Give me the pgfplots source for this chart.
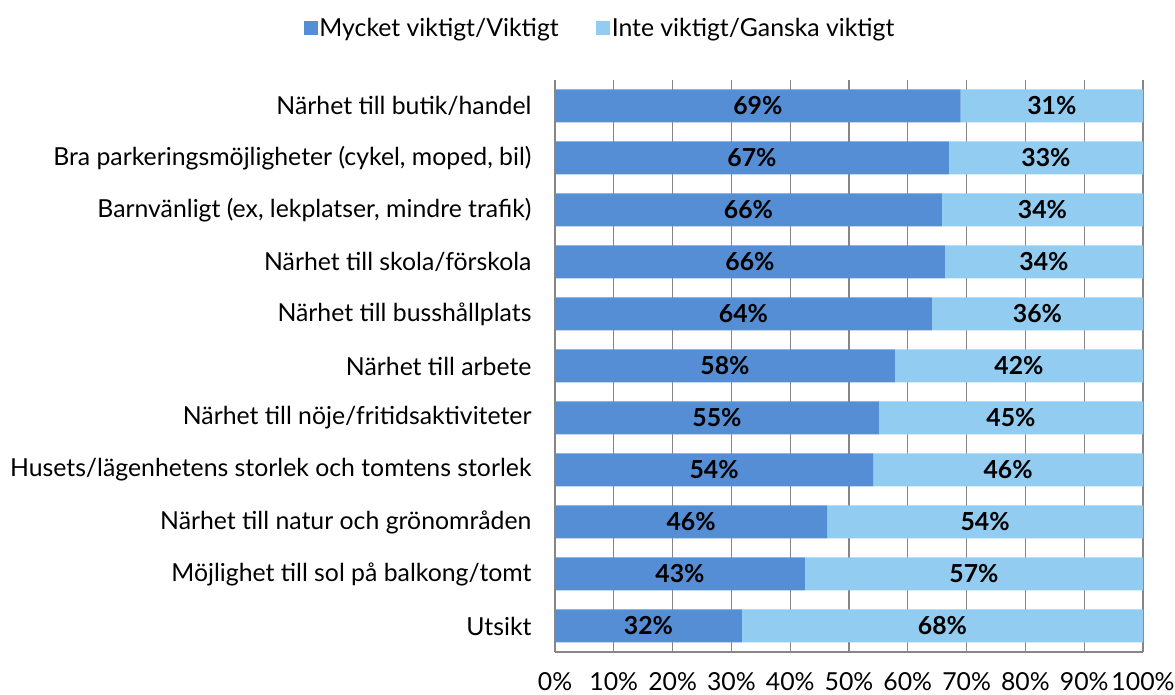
\documentclass[border=0pt]{standalone}
\usepackage{fontspec}
\setmainfont{Lato}
\usepackage{pgfplots}
\pgfplotsset{compat=1.18}
\usepackage{pgfplotstable}
\definecolor{darkbar}{RGB}{85,142,213}
\definecolor{lightbar}{RGB}{146,204,240}
\definecolor{gridgray}{RGB}{134,134,134}

% idx 10 = top row; a = Mycket viktigt/Viktigt, b = Inte viktigt/Ganska viktigt
\pgfplotstableread{
idx a    b    la lb
10  69.0 31.0 69 31
9   67.0 33.0 67 33
8   65.8 34.2 66 34
7   66.3 33.7 66 34
6   64.1 35.9 64 36
5   57.8 42.2 58 42
4   55.1 44.9 55 45
3   54.1 45.9 54 46
2   46.3 53.7 46 54
1   42.5 57.5 43 57
0   31.8 68.2 32 68
}\data

\newcommand{\lblfont}{\fontsize{24.8}{28}\selectfont}

\begin{document}
\begin{tikzpicture}[x=1pt,y=1pt]
\path[use as bounding box] (0,0) rectangle (1175,695);
\pgfplotsset{base/.style={
  scale only axis, width=588pt, height=572pt,
  at={(555pt,43pt)}, anchor=south west,
  xmin=0, xmax=100, ymin=-0.5, ymax=10.5}}
\begin{axis}[base,
  xbar stacked, bar width=33pt,
  axis x line*=bottom, axis y line*=left,
  axis line style={gridgray, line width=1.2pt},
  xmajorgrids, grid style={gridgray, line width=1.2pt},
  major tick length=0pt,
  xtick={0,10,...,100},
  xticklabels={0\%,10\%,20\%,30\%,40\%,50\%,60\%,70\%,80\%,90\%,100\%},
  ytick={0,...,10},
  yticklabels={Utsikt,
    Möjlighet till sol på balkong/tomt,
    Närhet till natur och grönområden,
    Husets/lägenhetens storlek och tomtens storlek,
    Närhet till nöje/fritidsaktiviteter,
    Närhet till arbete,
    Närhet till busshållplats,
    Närhet till skola/förskola,
    {Barnvänligt (ex, lekplatser, mindre trafik)},
    {Bra parkeringsmöjligheter (cykel, moped, bil)},
    Närhet till butik/handel},
  tick label style={font=\lblfont},
  xticklabel style={yshift=-17pt},
  yticklabel style={xshift=-20pt},
  legend style={at={(0.0765,1.091)}, anchor=center, draw=none,
    legend columns=2, font=\lblfont,
    nodes={inner sep=1.5pt},
    /tikz/every even column/.append style={column sep=36pt}},
  legend image code/.code={\fill[#1] (0pt,-7pt) rectangle (14pt,7pt);},
]
\addplot[fill=darkbar, draw=none] table[x=a, y=idx] {\data};
\addplot[fill=lightbar, draw=none] table[x=b, y=idx] {\data};
\legend{Mycket viktigt/Viktigt, Inte viktigt/Ganska viktigt}
\end{axis}
\begin{axis}[base, hide axis]
\addplot[draw=none, mark=none, point meta=explicit symbolic,
  nodes near coords={\textbf{\pgfplotspointmeta\%}},
  every node near coord/.append style={anchor=center, font=\lblfont}]
  table[x expr=\thisrow{a}/2, y=idx, meta=la] {\data};
\addplot[draw=none, mark=none, point meta=explicit symbolic,
  nodes near coords={\textbf{\pgfplotspointmeta\%}},
  every node near coord/.append style={anchor=center, font=\lblfont}]
  table[x expr=\thisrow{a}+\thisrow{b}/2, y=idx, meta=lb] {\data};
\end{axis}
\end{tikzpicture}
\end{document}
